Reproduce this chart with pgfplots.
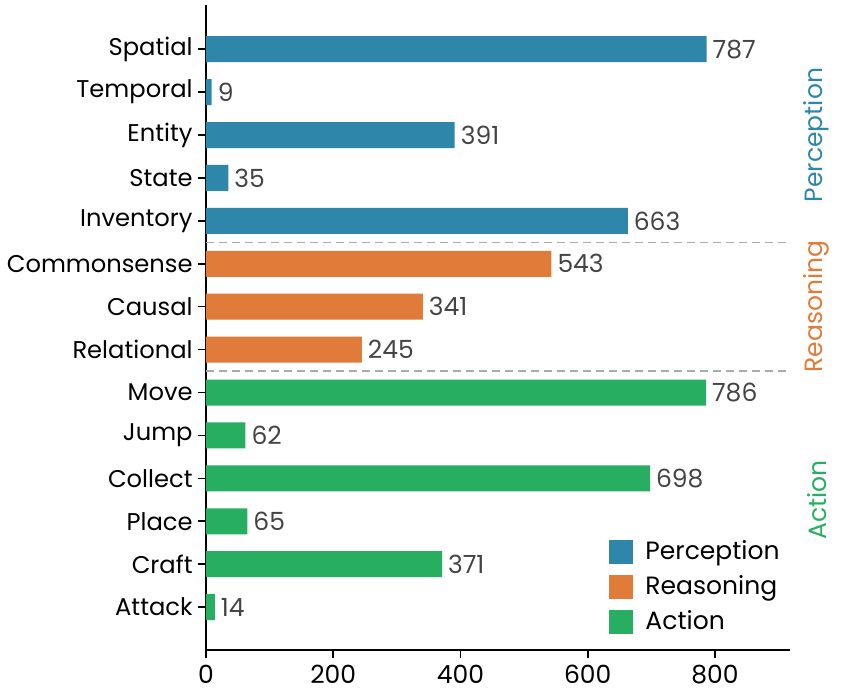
\documentclass[border=0pt]{standalone}
\usepackage{pgfplots}
\pgfplotsset{compat=1.18}
\usepackage{fontspec}
\setmainfont{Poppins}
\definecolor{cPer}{HTML}{2E86AB}
\definecolor{cRea}{HTML}{E07B39}
\definecolor{cAct}{HTML}{27AE60}
\definecolor{numgray}{HTML}{444444}
\definecolor{dashgray}{HTML}{AAAAAA}
\begin{document}
\begin{tikzpicture}
\begin{axis}[
  scale only axis, width=292pt, height=322.5pt,
  xbar, bar width=13pt, bar shift=0pt,
  xmin=0, xmax=918, ymin=-1, ymax=14.03,
  axis x line*=bottom, axis y line*=left,
  axis line style={black, line width=1pt},
  clip=false,
  xtick={0,200,400,600,800},
  ytick={0,...,13},
  yticklabels={Attack,Craft,Place,Collect,Jump,Move,Relational,Causal,Commonsense,Inventory,State,Entity,Temporal,Spatial},
  tick align=outside, major tick length=4pt,
  tick style={black, line width=0.8pt},
  ticklabel style={font=\fontsize{12.5}{15}\selectfont},
  yticklabel style={font=\fontsize{12.1}{15}\selectfont, inner xsep=2.5pt},
  /pgf/number format/assume math mode=true,
  nodes near coords,
  point meta=x,
  every node near coord/.style={anchor=west, font=\fontsize{12.5}{15}\selectfont, text=numgray, xshift=-0.5pt},
  legend style={at={(rel axis cs:1,0)}, anchor=south east, xshift=0pt, yshift=4.5pt, draw=none, fill=none, font=\fontsize{12.5}{15}\selectfont, row sep=2.5pt, column sep=4pt},
  legend cell align=left,
  legend image code/.code={\fill[#1] (0pt,-6pt) rectangle (12pt,6pt);},
]
\addplot[fill=cPer, draw=none] coordinates {(787,13) (9,12) (391,11) (35,10) (663,9)};
\addplot[fill=cRea, draw=none] coordinates {(543,8) (341,7) (245,6)};
\addplot[fill=cAct, draw=none] coordinates {(786,5) (62,4) (698,3) (65,2) (371,1) (14,0)};
\legend{Perception,Reasoning,Action}
\draw[dashgray, line width=0.8pt, dash pattern=on 4pt off 2.5pt] (axis cs:0,8.5) -- (axis cs:918,8.5);
\draw[dashgray, line width=0.8pt, dash pattern=on 4pt off 2.5pt] (axis cs:0,5.5) -- (axis cs:918,5.5);
\node[rotate=90, text=cPer, font=\fontsize{12.5}{15}\selectfont] at (axis cs:960,11) {Perception};
\node[rotate=90, text=cRea, font=\fontsize{12.5}{15}\selectfont] at (axis cs:960,7) {Reasoning};
\node[rotate=90, text=cAct, font=\fontsize{12.5}{15}\selectfont] at (axis cs:960,2.5) {Action};
\end{axis}
\path ([xshift=-103pt,yshift=-25pt]current axis.south west) rectangle ([xshift=320pt,yshift=325pt]current axis.south west);
\end{tikzpicture}
\end{document}
